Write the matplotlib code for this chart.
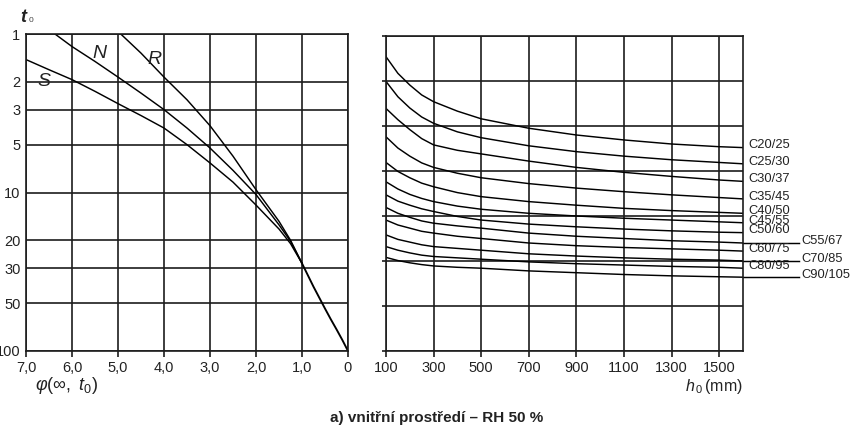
import matplotlib
matplotlib.use("Agg")
import matplotlib.pyplot as plt
from matplotlib.ticker import FixedLocator, NullLocator

plt.rcParams["font.family"] = ["Liberation Sans", "DejaVu Sans"]
plt.rcParams["mathtext.fontset"] = "custom"
plt.rcParams["mathtext.rm"] = "Liberation Sans"
plt.rcParams["mathtext.it"] = "Liberation Sans:italic"
plt.rcParams["mathtext.bf"] = "Liberation Sans:bold"

# --- left nomogram: t0 (days, log) against creep coefficient ---
S_PHI = [7.0, 6.5, 6.0, 5.5, 5.0, 4.5, 4.0, 3.5, 3.0, 2.5, 2.0, 1.5, 1.25, 1.0]
S_T = [1.45, 1.68, 1.94, 2.3, 2.75, 3.27, 3.92, 4.99, 6.51, 8.6, 12.0, 17.0, 21.0, 28.0]
N_PHI = [6.37, 6.0, 5.5, 5.0, 4.5, 4.0, 3.5, 3.0, 2.5, 2.0, 1.5, 1.25, 1.0]
N_T = [1.0, 1.2, 1.49, 1.87, 2.36, 3.0, 3.92, 5.24, 7.25, 10.3, 16.0, 20.3, 28.0]
R_PHI = [4.94, 4.5, 4.0, 3.5, 3.0, 2.5, 2.0, 1.5, 1.25, 1.0]
R_T = [1.0, 1.32, 1.87, 2.6, 3.79, 5.9, 9.6, 15.2, 20.0, 28.0]
TAIL_PHI = [1.0, 0.75, 0.5, 0.375, 0.25, 0.125, 0.0]
TAIL_T = [28.0, 39.3, 54.0, 63.0, 73.0, 85.0, 100.0]
CEMENT = ["S", "N", "R"]

T0_TICKS = [1, 2, 3, 5, 10, 20, 30, 50, 100]
PHI_TICKS = [7, 6, 5, 4, 3, 2, 1, 0]
PHI_LABELS = ["7,0", "6,0", "5,0", "4,0", "3,0", "2,0", "1,0", "0"]

# --- right nomogram: notional size h0 against concrete class ---
H0 = [100, 150, 200, 250, 300, 400, 500, 700, 900, 1100, 1300, 1500, 1600]
GRADES = ["C20/25", "C25/30", "C30/37", "C35/45", "C40/50", "C45/55",
          "C50/60", "C55/67", "C60/75", "C70/85", "C80/95", "C90/105"]
C20_25 = [0.46, 0.83, 1.09, 1.31, 1.46, 1.67, 1.84, 2.05, 2.20, 2.31, 2.40, 2.46, 2.48]
C25_30 = [1.01, 1.35, 1.60, 1.80, 1.94, 2.13, 2.26, 2.44, 2.57, 2.67, 2.75, 2.81, 2.84]
C30_37 = [1.61, 1.86, 2.08, 2.28, 2.42, 2.54, 2.62, 2.78, 2.92, 3.03, 3.12, 3.20, 3.23]
C35_45 = [2.24, 2.49, 2.67, 2.82, 2.92, 3.05, 3.15, 3.28, 3.38, 3.46, 3.53, 3.59, 3.62]
C40_50 = [2.81, 3.01, 3.15, 3.27, 3.35, 3.48, 3.57, 3.68, 3.76, 3.83, 3.88, 3.92, 3.94]
C45_55 = [3.24, 3.40, 3.52, 3.61, 3.68, 3.78, 3.85, 3.94, 4.00, 4.05, 4.09, 4.13, 4.15]
C50_60 = [3.53, 3.67, 3.76, 3.84, 3.90, 4.01, 4.09, 4.18, 4.24, 4.29, 4.33, 4.36, 4.37]
C55_67 = [3.81, 3.94, 4.03, 4.11, 4.16, 4.22, 4.27, 4.38, 4.45, 4.50, 4.55, 4.58, 4.60]
C60_75 = [4.09, 4.20, 4.27, 4.34, 4.38, 4.45, 4.50, 4.60, 4.66, 4.70, 4.73, 4.76, 4.78]
C70_85 = [4.42, 4.52, 4.58, 4.64, 4.68, 4.72, 4.76, 4.84, 4.89, 4.93, 4.96, 4.98, 5.00]
C80_95 = [4.68, 4.76, 4.82, 4.87, 4.90, 4.93, 4.96, 5.02, 5.06, 5.09, 5.12, 5.14, 5.16]
C90_105 = [4.92, 4.99, 5.04, 5.08, 5.11, 5.14, 5.16, 5.22, 5.26, 5.30, 5.33, 5.35, 5.36]
GRADE_CURVES = [C20_25, C25_30, C30_37, C35_45, C40_50, C45_55,
                C50_60, C55_67, C60_75, C70_85, C80_95, C90_105]
OUTER_LABELS = {"C55/67", "C70/85", "C90/105"}

H0_TICKS = [100, 300, 500, 700, 900, 1100, 1300, 1500]

INK = "#1c1c1c"
TXT = "#222222"
GRID_LW = 1.2
CURVE_LW = 1.05
TICK_FS = 10.5

fig = plt.figure(figsize=(8.61, 4.32), dpi=100)
ax1 = fig.add_axes([26 / 861, 1 - 351 / 432, 322 / 861, 317 / 432])
ax2 = fig.add_axes([386 / 861, 1 - 351 / 432, 357 / 861, 315 / 432])


def frame(ax):
    for sp in ax.spines.values():
        sp.set_color(INK)
        sp.set_linewidth(GRID_LW)
    ax.tick_params(colors=INK, width=GRID_LW, length=4, labelsize=TICK_FS,
                   labelcolor=TXT)
    ax.grid(True, color=INK, linewidth=GRID_LW)
    ax.set_axisbelow(True)


# left panel
ax1.set_yscale("log")
ax1.set_ylim(100, 1)
ax1.set_xlim(7, 0)
ax1.yaxis.set_major_locator(FixedLocator(T0_TICKS))
ax1.yaxis.set_minor_locator(NullLocator())
ax1.set_yticklabels([str(v) for v in T0_TICKS])
ax1.xaxis.set_major_locator(FixedLocator(PHI_TICKS))
ax1.set_xticklabels(PHI_LABELS)
frame(ax1)
ax1.tick_params(axis="y", length=0, pad=4)

for phi, t in [(S_PHI, S_T), (N_PHI, N_T), (R_PHI, R_T)]:
    ax1.plot(phi, t, color="black", lw=CURVE_LW, solid_capstyle="butt")
ax1.plot(TAIL_PHI, TAIL_T, color="black", lw=CURVE_LW * 1.3)

for name, x, y in zip(CEMENT, [6.6, 5.4, 4.2], [2.0, 1.32, 1.45]):
    ax1.text(x, y, name, fontsize=14, fontstyle="italic", ha="center",
             va="center", color=TXT)

# axis titles
fig.text(20 / 861, 1 - 18 / 432, "t", fontsize=13, fontweight="bold",
         fontstyle="italic", ha="left", va="center", color=TXT)
fig.text(29 / 861, 1 - 20 / 432, "0", fontsize=6, ha="left", va="center",
         color="#444444")
fig.text(35 / 861, 1 - 386 / 432, r"$\mathit{\varphi}(\infty,\ \mathit{t}_{0})$",
         fontsize=13, ha="left", va="center", color=TXT)

# right panel
ax2.set_xlim(100, 1600)
ax2.set_ylim(7, 0)
ax2.xaxis.set_major_locator(FixedLocator(H0_TICKS))
ax2.set_xticklabels([str(v) for v in H0_TICKS])
ax2.yaxis.set_major_locator(FixedLocator(range(8)))
ax2.set_yticklabels([])
frame(ax2)
ax2.tick_params(axis="y", length=3)

for grade, vals in zip(GRADES, GRADE_CURVES):
    ax2.plot(H0, vals, color="black", lw=CURVE_LW)
    end = vals[-1]
    if grade in OUTER_LABELS:
        ax2.plot([H0[-1], 1835], [end, end], color="black", lw=CURVE_LW,
                 clip_on=False)
        ax2.text(1845, end - 0.05, grade, fontsize=9.3, va="center",
                 ha="left", color=TXT)
    else:
        ax2.text(1621, end - 0.05, grade, fontsize=9.3, va="center",
                 ha="left", color=TXT)

fig.text(743 / 861, 1 - 386 / 432, r"$\mathit{h}_{\,0}\,$(mm)", fontsize=11.5,
         ha="right", va="center", color=TXT)

fig.text(437 / 861, 1 - 418 / 432, "a) vnitřní prostředí – RH 50 %",
         fontsize=11, fontweight="bold", ha="center", va="center", color=TXT)

fig.savefig("out.png", dpi=100)
